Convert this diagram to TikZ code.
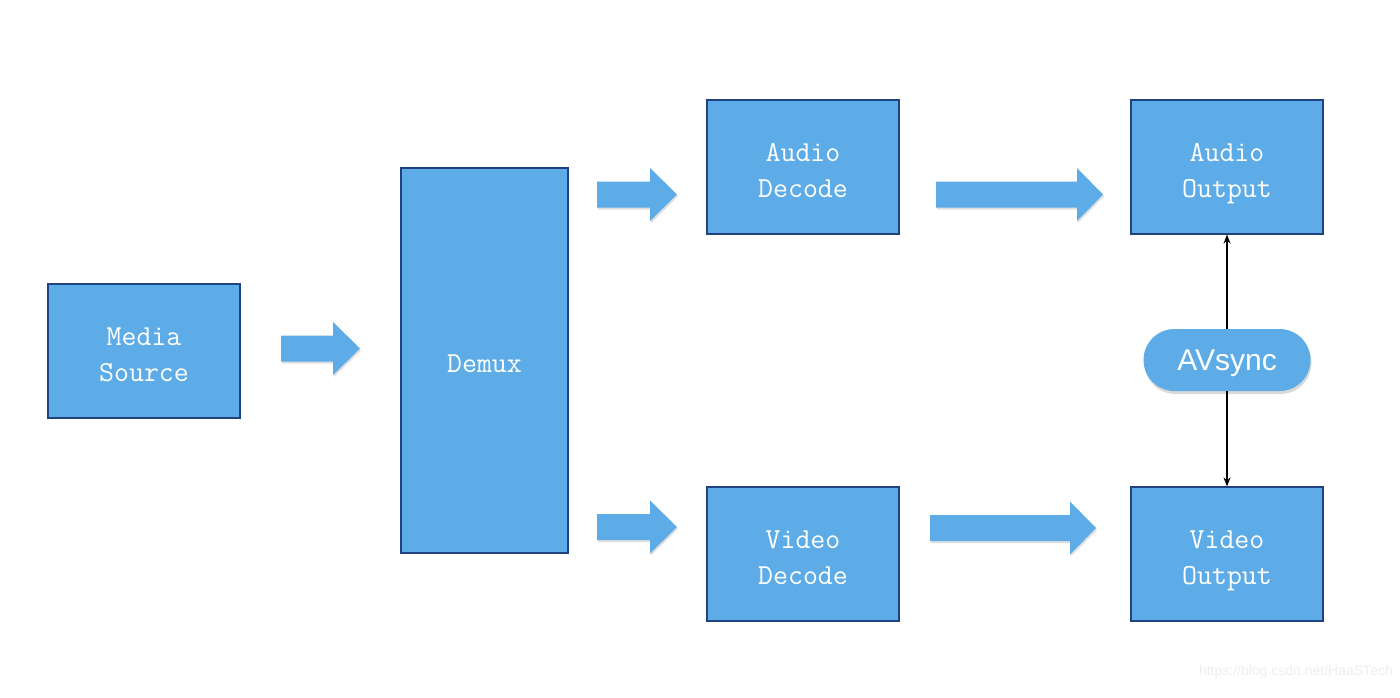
\documentclass[tikz,border=0pt]{standalone}
\usepackage{fontspec}
\newfontfamily\avfont{Liberation Sans}
\usetikzlibrary{shadows,arrows.meta}
\definecolor{boxblue}{RGB}{93,172,231}
\definecolor{edgeblue}{RGB}{33,66,128}
\definecolor{wm}{RGB}{238,238,238}
\tikzset{
  box/.style={draw=edgeblue, line width=1.2pt, fill=boxblue, text=white, align=center,
    font=\ttfamily\fontsize{29}{36}\selectfont, inner sep=0pt},
  fatarrow/.style={fill=boxblue, draw=none, drop shadow={shadow xshift=1pt, shadow yshift=-2pt, opacity=0.25}},
  pill/.style={fill=boxblue, text=white, font=\avfont\fontsize{30}{36}\selectfont,
    minimum width=167pt, minimum height=62pt, rounded corners=31pt, inner sep=0pt,
    drop shadow={shadow xshift=1pt, shadow yshift=-3pt, opacity=0.3}},
  sync/.style={-{Stealth[length=9pt,width=7pt]}, line width=2pt, black}
}
\newcommand{\boxtext}[1]{\raisebox{-5pt}[\height][\depth]{\begin{tabular}{@{}c@{}}#1\end{tabular}}}
\newcommand{\fatarr}[4]{% x1, headstart, x2, yc
  \fill[fatarrow] (#1,#4-13) -- (#2,#4-13) -- (#2,#4-26.5) -- (#3,#4) -- (#2,#4+26.5) -- (#2,#4+13) -- (#1,#4+13) -- cycle;}
\begin{document}
\begin{tikzpicture}[x=1pt,y=-1pt]
\useasboundingbox (0,0) rectangle (1400,697);
\fill[white] (0,0) rectangle (1400,697);
% boxes
\node[box, minimum width=192pt, minimum height=134pt] (media) at (144,351) {\boxtext{Media\\Source}};
\node[box, minimum width=167pt, minimum height=385pt] (demux) at (484.5,360.5) {\boxtext{Demux}};
\node[box, minimum width=192pt, minimum height=134pt] (adec) at (803,167) {\boxtext{Audio\\Decode}};
\node[box, minimum width=192pt, minimum height=134pt] (vdec) at (803,554) {\boxtext{Video\\Decode}};
\node[box, minimum width=192pt, minimum height=134pt] (aout) at (1227,167) {\boxtext{Audio\\Output}};
\node[box, minimum width=192pt, minimum height=134pt] (vout) at (1227,554) {\boxtext{Video\\Output}};
% AVsync pill
\node[pill] (sync) at (1227,360) {\raisebox{-3pt}[\height][\depth]{AVsync}};
% block arrows
\fatarr{281}{333}{360}{348.5}
\fatarr{597}{650}{677}{194.5}
\fatarr{597}{650}{677}{527}
\fatarr{936}{1077}{1103}{194.5}
\fatarr{930}{1070}{1096}{528}
% sync arrows
\draw[sync] (sync.north) -- (aout.south);
\draw[sync] (sync.south) -- (vout.north);
% watermark
\node[anchor=east, text=wm, font=\avfont\fontsize{14}{16}\selectfont, inner sep=0pt] (wmark) at (1393,672) {https://blog.csdn.net/HaaSTech};
\end{tikzpicture}
\end{document}
